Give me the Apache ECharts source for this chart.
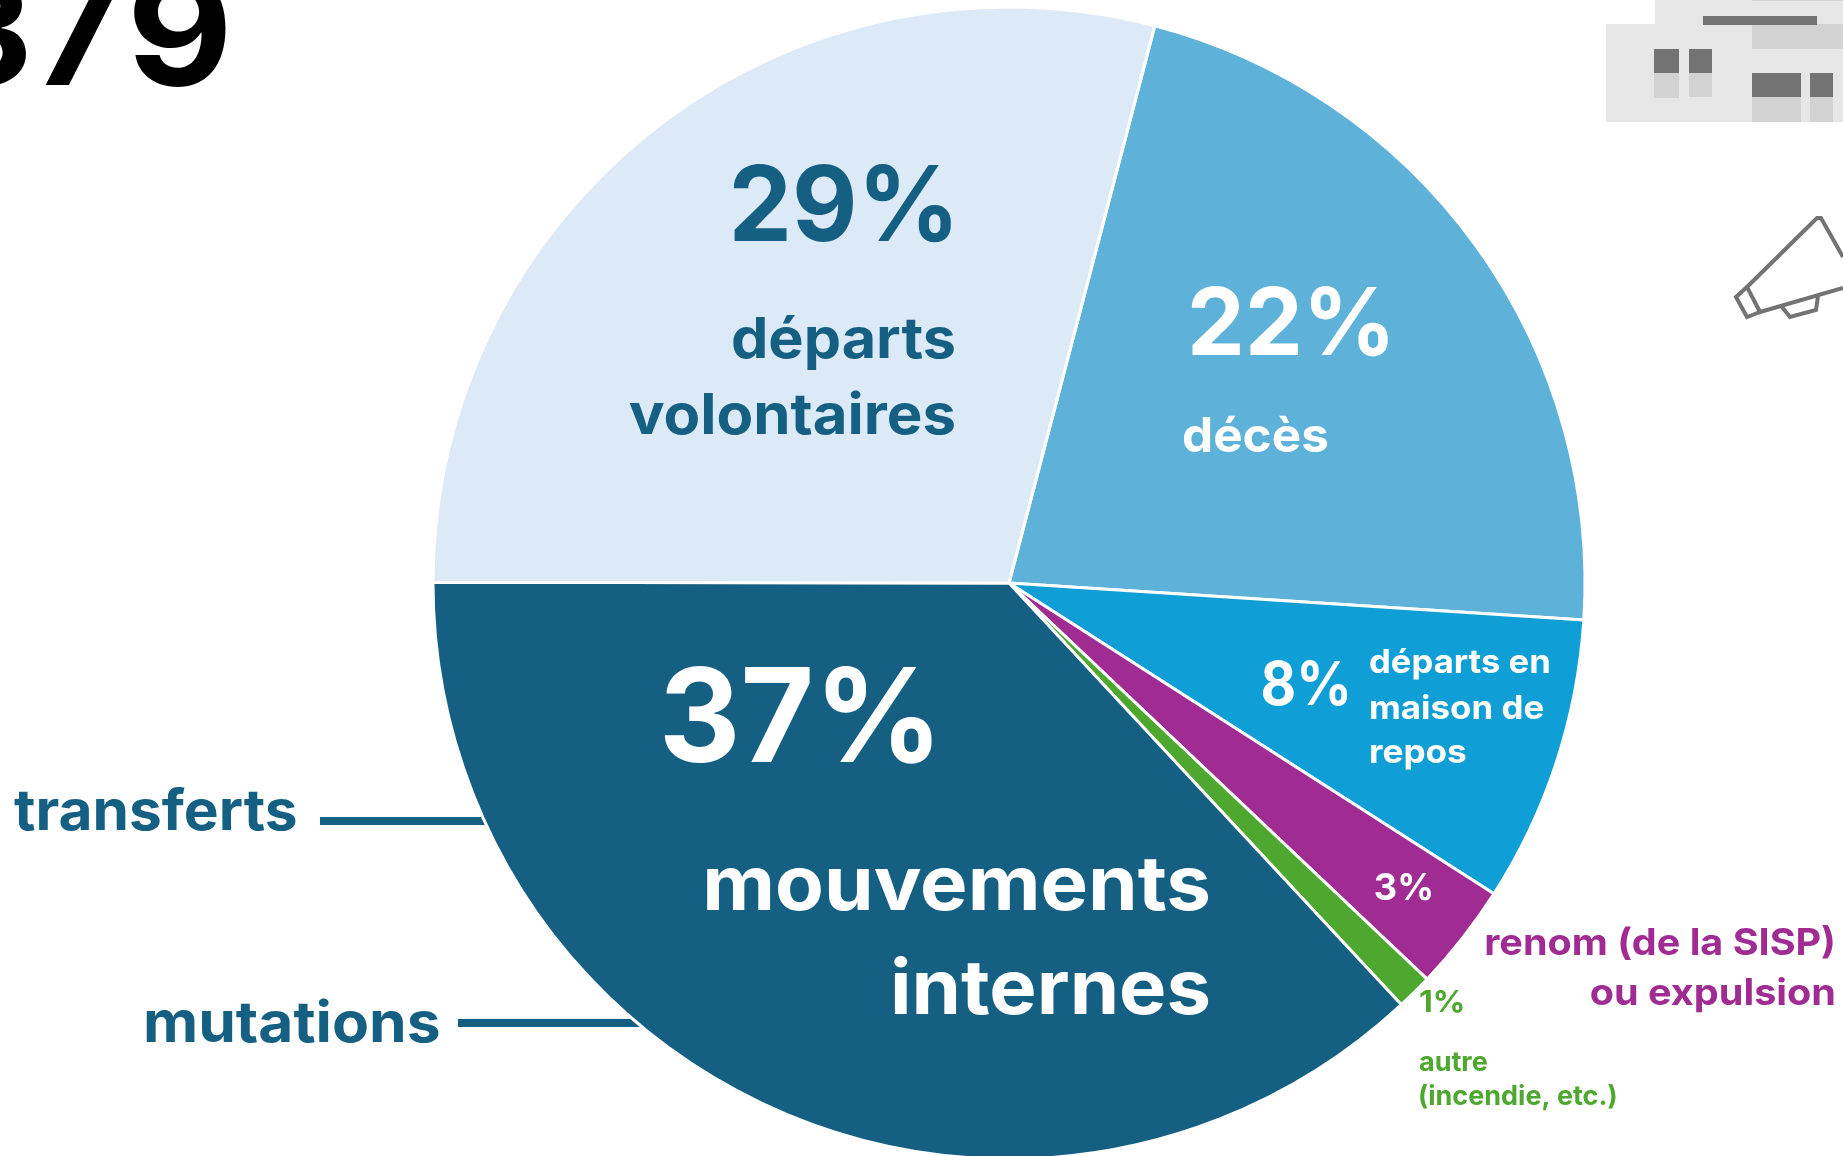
<!DOCTYPE html>
<html>
<head>
<meta charset="utf-8">
<title>Départs</title>
<script src="https://cdn.jsdelivr.net/npm/echarts@6/dist/echarts.min.js"></script>
<style>
  html, body { margin: 0; padding: 0; background: #fff; }
  #chart { width: 1843px; height: 1156px; }
</style>
</head>
<body>
<div id="chart"></div>
<script>
// data, clockwise from the top slice
const categories = ['décès', 'départs en maison de repos', 'renom (de la SISP) ou expulsion', 'autre (incendie, etc.)', 'mouvements internes', 'départs volontaires'];
const values = [21.95, 8.05, 3.0, 1.0, 36.95, 29.05];
const sliceColors = ['#5EB1D9', '#0F9ED5', '#A02B93', '#4EA72E', '#156082', '#DCEAF7'];
const percents = ['22%', '8%', '3%', '1%', '37%', '29%'];

const navy = '#156082', white = '#fff', purple = '#A02B93', green = '#4EA72E';
const grey = '#737373', lightGrey = '#E6E6E6', midGrey = '#D2D2D2';

// text, x, baseline y, font size, colour, align, width stretch (Inter is narrower than the original font)
const labels = [
    [percents[5], 960, 241, 104, navy, 'right', 0.97],
    ['départs', 956, 358, 56, navy, 'right', 1.06],
    ['volontaires', 956, 434, 56, navy, 'right', 1.07],
    [percents[0], 1396, 355, 94, white, 'right', 0.977],
    ['décès', 1182, 452, 48, white, 'left', 1.03],
    [percents[4], 943, 762, 130, white, 'right', 0.975],
    ['mouvements', 1211, 910, 76, white, 'right', 1.05],
    ['internes', 1211, 1014, 76, white, 'right', 1.046],
    [percents[1], 1352, 705, 60, white, 'right', 0.914],
    ['départs en', 1369, 673, 33, white, 'left', 1.05],
    ['maison de', 1369, 719, 33, white, 'left', 1.057],
    ['repos', 1369, 763, 33, white, 'left', 1.065],
    [percents[2], 1434, 900, 37, white, 'right', 0.98],
    ['renom (de la SISP)', 1836, 955, 37, purple, 'right', 1.068],
    ['ou expulsion', 1836, 1005, 37, purple, 'right', 1.07],
    [percents[3], 1419, 1012, 30, green, 'left', 1.07],
    ['autre', 1419, 1071, 27, green, 'left', 1],
    ['(incendie, etc.)', 1418, 1105, 27, green, 'left', 1],
    ['transferts', 14, 830, 56, navy, 'left', 1.046],
    ['mutations', 143, 1042, 56, navy, 'left', 1.08],
    ['9', 233, 85, 150, '#000', 'right', 1.09],
    ['37', 120, 85, 150, '#000', 'right', 1]
];

// decor: building block of the neighbouring panel, x y w h colour
const buildingRects = [
    [1606, 24, 237, 98, lightGrey], [1655, 0, 188, 24, lightGrey],
    [1752, 0, 91, 1, midGrey], [1752, 24, 91, 25, midGrey], [1703, 16, 114, 9, grey],
    [1654, 49, 25, 24, grey], [1654, 73, 25, 25, midGrey],
    [1689, 49, 23, 24, grey], [1689, 73, 23, 24, midGrey],
    [1752, 73, 49, 24, grey], [1752, 97, 49, 25, midGrey],
    [1810, 73, 23, 24, grey], [1810, 97, 23, 25, midGrey]
];
const megaphone = [
    [[1843, 257], [1821, 218], [1817, 218], [1747, 287], [1760, 312], [1843, 288]],
    [[1747, 287], [1736, 297], [1747, 317], [1760, 312]],
    [[1782, 307], [1790, 317], [1816, 310], [1818, 296]]
];
const leaders = [[320, 821, 500], [458, 1023, 660]];

const graphics = [];
leaders.forEach(l => graphics.push({
    type: 'rect', z: 0, shape: { x: l[0], y: l[1] - 4, width: l[2] - l[0], height: 8 }, style: { fill: navy }
}));
buildingRects.forEach(r => graphics.push({
    type: 'rect', z: 5, shape: { x: r[0], y: r[1], width: r[2], height: r[3] }, style: { fill: r[4] }
}));
megaphone.forEach(p => graphics.push({
    type: 'polyline', z: 5, shape: { points: p }, style: { stroke: grey, lineWidth: 4, fill: 'none' }
}));
labels.forEach(t => graphics.push({
    type: 'text', z: 10, x: t[1], y: t[2] - t[3] * 0.3, scaleX: t[6],
    style: {
        text: t[0], fill: t[4], align: t[5], verticalAlign: 'middle',
        font: '700 ' + t[3] + 'px Inter, "Noto Sans", sans-serif'
    }
}));

const myChart = echarts.init(document.getElementById('chart'), null, { renderer: 'canvas' });
myChart.setOption({
    animation: false,
    backgroundColor: '#fff',
    graphic: graphics,
    series: [{
        type: 'pie',
        z: 2,
        silent: true,
        center: [1009, 583],
        radius: [0, 576],
        startAngle: 75.34,
        clockwise: true,
        avoidLabelOverlap: false,
        label: { show: false },
        labelLine: { show: false },
        itemStyle: { borderColor: '#fff', borderWidth: 3 },
        data: categories.map((c, i) => ({ name: c, value: values[i], itemStyle: { color: sliceColors[i] } }))
    }]
});
</script>
</body>
</html>
